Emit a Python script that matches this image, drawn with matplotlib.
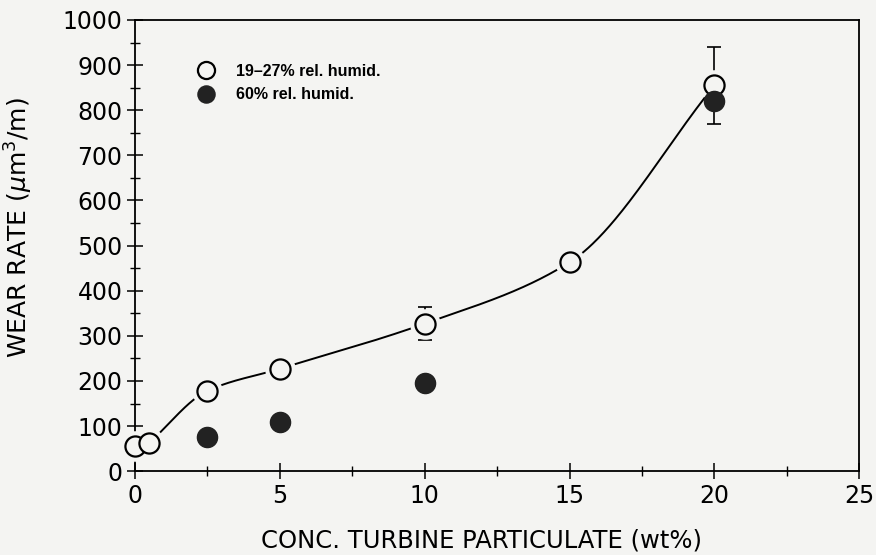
import matplotlib
matplotlib.use("Agg")
import matplotlib.pyplot as plt
import numpy as np

# 数据
conc_dry = [0, 0.5, 2.5, 5, 10, 15, 20]
wear_dry = [55, 63, 178, 227, 327, 463, 855]
err_dry_lo = [0, 0, 0, 0, 37, 0, 85]
err_dry_hi = [0, 0, 0, 0, 37, 0, 85]

conc_wet = [2.5, 5, 10, 20]
wear_wet = [75, 110, 195, 820]

# 拟合曲线经过的点（从 0.5 开始）
curve_x = conc_dry[1:]
curve_y = wear_dry[1:]

bg = "#f4f4f2"


# PCHIP 单调插值画平滑曲线
def pchip(x, y, xs):
    x = np.asarray(x, float)
    y = np.asarray(y, float)
    h = np.diff(x)
    d = np.diff(y) / h
    m = np.zeros_like(y)
    for k in range(1, len(x) - 1):
        if d[k - 1] * d[k] > 0:
            w1 = 2 * h[k] + h[k - 1]
            w2 = h[k] + 2 * h[k - 1]
            m[k] = (w1 + w2) / (w1 / d[k - 1] + w2 / d[k])
    m[0] = d[0]
    m[-1] = d[-1]
    idx = np.clip(np.searchsorted(x, xs) - 1, 0, len(h) - 1)
    t = (xs - x[idx]) / h[idx]
    h00 = 2 * t**3 - 3 * t**2 + 1
    h10 = t**3 - 2 * t**2 + t
    h01 = -2 * t**3 + 3 * t**2
    h11 = t**3 - t**2
    return (h00 * y[idx] + h10 * h[idx] * m[idx]
            + h01 * y[idx + 1] + h11 * h[idx] * m[idx + 1])


plt.rcParams["font.family"] = ["DejaVu Sans"]
fig = plt.figure(figsize=(8.76, 5.55), dpi=100, facecolor=bg)
ax = fig.add_axes([0.154, 0.151, 0.827, 0.813], facecolor=bg)

xs = np.linspace(curve_x[0], curve_x[-1], 400)
ax.plot(xs, pchip(curve_x, curve_y, xs), color="black", lw=1.4, zorder=2)

# 误差棒
ax.errorbar(conc_dry, wear_dry, yerr=[err_dry_lo, err_dry_hi], fmt="none",
            ecolor="black", elinewidth=1.2, capsize=5, capthick=1.2, zorder=1)

# 底色垫一圈，让曲线在点附近断开
ax.plot(conc_dry, wear_dry, "o", ms=20, mfc=bg, mec=bg, mew=2, zorder=3,
        clip_on=False)
h1, = ax.plot(conc_dry, wear_dry, "o", ms=14.5, mfc=bg, mec="black", mew=1.6,
              zorder=4, clip_on=False, label="19\u201327% rel. humid.")
h2, = ax.plot(conc_wet, wear_wet, "o", ms=14.5, mfc="#222222", mec="#222222",
              zorder=5, clip_on=False, label="60% rel. humid.")

ax.legend(handles=[h1, h2], loc="upper left", bbox_to_anchor=(0.067, 0.935),
          frameon=False, markerscale=0.85, handletextpad=1.4, labelspacing=0.55,
          prop={"family": "Liberation Sans", "size": 11.5, "weight": "bold"},
          handlelength=1.0)

ax.set_xlim(0, 25)
ax.set_ylim(0, 1000)
ax.set_xticks([0, 5, 10, 15, 20, 25])
ax.set_xticks([2.5, 7.5, 12.5, 17.5, 22.5], minor=True)
ax.set_yticks(range(0, 1001, 100))
ax.set_yticks(range(50, 1000, 100), minor=True)
ax.tick_params(which="major", direction="inout", length=12, width=1.1,
               labelsize=17, pad=3, right=False, top=False)
ax.tick_params(which="minor", direction="inout", length=7, width=1.0,
               right=False, top=False)
for s in ax.spines.values():
    s.set_linewidth(1.3)

ax.set_xlabel("CONC. TURBINE PARTICULATE (wt%)", fontsize=17.5)
ax.set_ylabel(r"WEAR RATE ($\mu$m$^3$/m)", fontsize=18)
ax.xaxis.set_label_coords(0.479, -0.127)
ax.yaxis.set_label_coords(-0.138, 0.539)

fig.savefig("out.png", dpi=100, facecolor=bg)
